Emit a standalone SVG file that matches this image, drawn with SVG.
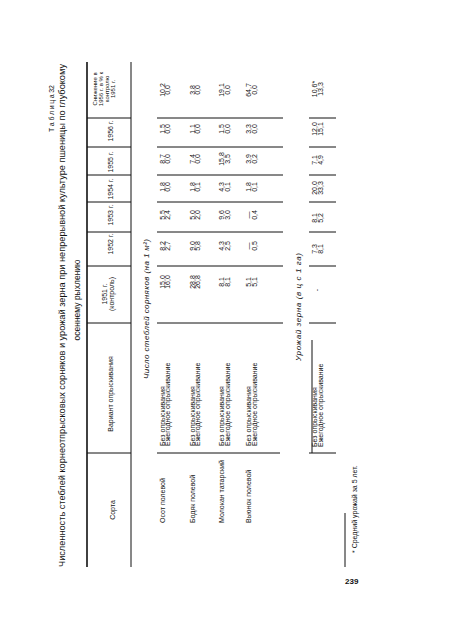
<svg xmlns="http://www.w3.org/2000/svg" width="450" height="634" viewBox="0 0 450 634">
<style>
.t{font-family:"Liberation Sans",Arial,sans-serif;font-size:7px;fill:#111}
.m{text-anchor:middle}
.s{font-size:6px}
.i{font-style:italic;font-size:8px}
.ti{font-size:8.5px}
.r{stroke:#111;stroke-width:1;fill:none}
.b{stroke:#111;stroke-width:1.6;fill:none}
</style>
<rect width="450" height="634" fill="#fff"/>
<g id="caption">
<text class="t" transform="translate(54 132) rotate(-90)" textLength="47">Т а б л и ц а 32</text>
<text class="t ti" transform="translate(65 567) rotate(-90)" textLength="503" lengthAdjust="spacingAndGlyphs">Численность стеблей корнеотпрысковых сорняков и урожай зерна при непрерывной культуре пшеницы по глубокому</text>
<text class="t ti m" transform="translate(80 300) rotate(-90)">осеннему рыхлению</text>
</g>
<g id="rules">
<line class="b" x1="87" y1="62" x2="87" y2="567"/>
<line class="r" x1="131" y1="62" x2="131" y2="567"/>
<path class="r" d="M87 118H131M87 147H131M87 175H131M87 202H131M87 232H131M87 266H131M87 323H131M87 453H131"/>
<path class="r" d="M157 118H283M157 147H283M157 175H283M157 202H283M157 232H283M157 266H283M157 323H283M157 453H280"/>
<path class="r" d="M309 118H336M309 147H336M309 175H336M309 202H336M309 232H336M309 266H336M309 323H336M309 453H336"/>
<line class="r" x1="312" y1="340" x2="312" y2="453"/>
<line class="r" x1="345" y1="513" x2="345" y2="567"/>
</g>
<g id="header">
<text class="t m" transform="translate(114.5 510) rotate(-90)">Сорта</text>
<text class="t m" transform="translate(112.5 394) rotate(-90)">Вариант опрыскивания</text>
<text class="t m" transform="translate(106.5 294) rotate(-90)">1951 г.</text>
<text class="t m" transform="translate(114 294) rotate(-90)">(контроль)</text>
<text class="t m" transform="translate(112.5 244) rotate(-90)">1952 г.</text>
<text class="t m" transform="translate(112.5 215) rotate(-90)">1953 г.</text>
<text class="t m" transform="translate(112.5 189) rotate(-90)">1954 г.</text>
<text class="t m" transform="translate(112.5 162) rotate(-90)">1955 г.</text>
<text class="t m" transform="translate(112.5 131) rotate(-90)">1956 г.</text>
<text class="t s m" transform="translate(97 89) rotate(-90)">Снижение в</text>
<text class="t s m" transform="translate(103 89) rotate(-90)">1956 г. в % к</text>
<text class="t s m" transform="translate(109 89) rotate(-90)">контролю</text>
<text class="t s m" transform="translate(115 89) rotate(-90)">1951 г.</text>
</g>
<g id="section1">
<text class="t i m" transform="translate(149 309) rotate(-90)" textLength="140">Число стеблей сорняков (на 1 м²)</text>
<text class="t" transform="translate(164.5 523) rotate(-90)">Осот полевой</text>
<text class="t" transform="translate(194.5 523) rotate(-90)">Бодяк полевой</text>
<text class="t" transform="translate(224 523) rotate(-90)">Молокан татарский</text>
<text class="t" transform="translate(250.5 523) rotate(-90)">Вьюнок полевой</text>
<text class="t" transform="translate(164.5 446) rotate(-90)">Без опрыскивания</text>
<text class="t" transform="translate(170 446) rotate(-90)">Ежегодное опрыскивание</text>
<text class="t" transform="translate(194.5 446) rotate(-90)">Без опрыскивания</text>
<text class="t" transform="translate(200 446) rotate(-90)">Ежегодное опрыскивание</text>
<text class="t" transform="translate(224 446) rotate(-90)">Без опрыскивания</text>
<text class="t" transform="translate(229.5 446) rotate(-90)">Ежегодное опрыскивание</text>
<text class="t" transform="translate(250.5 446) rotate(-90)">Без опрыскивания</text>
<text class="t" transform="translate(256.5 446) rotate(-90)">Ежегодное опрыскивание</text>
</g>
<g id="data1">
<text class="t m" transform="translate(164.5 282) rotate(-90)">15,0</text>
<text class="t m" transform="translate(170 282) rotate(-90)">16,0</text>
<text class="t m" transform="translate(164.5 246) rotate(-90)">8,2</text>
<text class="t m" transform="translate(170 246) rotate(-90)">2,7</text>
<text class="t m" transform="translate(164.5 215) rotate(-90)">5,5</text>
<text class="t m" transform="translate(170 215) rotate(-90)">2,4</text>
<text class="t m" transform="translate(164.5 187) rotate(-90)">1,8</text>
<text class="t m" transform="translate(170 187) rotate(-90)">0,0</text>
<text class="t m" transform="translate(164.5 159) rotate(-90)">8,7</text>
<text class="t m" transform="translate(170 159) rotate(-90)">0,0</text>
<text class="t m" transform="translate(164.5 129) rotate(-90)">1,5</text>
<text class="t m" transform="translate(170 129) rotate(-90)">0,0</text>
<text class="t m" transform="translate(164.5 90) rotate(-90)">10,2</text>
<text class="t m" transform="translate(170 90) rotate(-90)">0,0</text>

<text class="t m" transform="translate(194.5 282) rotate(-90)">28,8</text>
<text class="t m" transform="translate(200 282) rotate(-90)">26,8</text>
<text class="t m" transform="translate(194.5 246) rotate(-90)">9,0</text>
<text class="t m" transform="translate(200 246) rotate(-90)">5,8</text>
<text class="t m" transform="translate(194.5 215) rotate(-90)">5,0</text>
<text class="t m" transform="translate(200 215) rotate(-90)">2,0</text>
<text class="t m" transform="translate(194.5 187) rotate(-90)">1,8</text>
<text class="t m" transform="translate(200 187) rotate(-90)">0,1</text>
<text class="t m" transform="translate(194.5 159) rotate(-90)">7,4</text>
<text class="t m" transform="translate(200 159) rotate(-90)">0,0</text>
<text class="t m" transform="translate(194.5 129) rotate(-90)">1,1</text>
<text class="t m" transform="translate(200 129) rotate(-90)">0,0</text>
<text class="t m" transform="translate(194.5 90) rotate(-90)">3,8</text>
<text class="t m" transform="translate(200 90) rotate(-90)">0,0</text>

<text class="t m" transform="translate(224 282) rotate(-90)">8,1</text>
<text class="t m" transform="translate(229.5 282) rotate(-90)">8,1</text>
<text class="t m" transform="translate(224 246) rotate(-90)">4,3</text>
<text class="t m" transform="translate(229.5 246) rotate(-90)">2,5</text>
<text class="t m" transform="translate(224 215) rotate(-90)">9,6</text>
<text class="t m" transform="translate(229.5 215) rotate(-90)">3,0</text>
<text class="t m" transform="translate(224 187) rotate(-90)">4,3</text>
<text class="t m" transform="translate(229.5 187) rotate(-90)">0,1</text>
<text class="t m" transform="translate(224 159) rotate(-90)">15,8</text>
<text class="t m" transform="translate(229.5 159) rotate(-90)">3,5</text>
<text class="t m" transform="translate(224 129) rotate(-90)">1,5</text>
<text class="t m" transform="translate(229.5 129) rotate(-90)">0,0</text>
<text class="t m" transform="translate(224 90) rotate(-90)">19,1</text>
<text class="t m" transform="translate(229.5 90) rotate(-90)">0,0</text>

<text class="t m" transform="translate(250.5 282) rotate(-90)">5,1</text>
<text class="t m" transform="translate(256.5 282) rotate(-90)">5,1</text>
<text class="t m" transform="translate(250.5 246) rotate(-90)">—</text>
<text class="t m" transform="translate(256.5 246) rotate(-90)">0,5</text>
<text class="t m" transform="translate(250.5 215) rotate(-90)">—</text>
<text class="t m" transform="translate(256.5 215) rotate(-90)">0,4</text>
<text class="t m" transform="translate(250.5 187) rotate(-90)">1,8</text>
<text class="t m" transform="translate(256.5 187) rotate(-90)">0,1</text>
<text class="t m" transform="translate(250.5 159) rotate(-90)">3,9</text>
<text class="t m" transform="translate(256.5 159) rotate(-90)">0,2</text>
<text class="t m" transform="translate(250.5 129) rotate(-90)">3,3</text>
<text class="t m" transform="translate(256.5 129) rotate(-90)">0,0</text>
<text class="t m" transform="translate(250.5 90) rotate(-90)">64,7</text>
<text class="t m" transform="translate(256.5 90) rotate(-90)">0,0</text>
</g>
<g id="section2">
<text class="t i m" transform="translate(301 307) rotate(-90)" textLength="108">Урожай зерна (в ц с 1 га)</text>
<text class="t" transform="translate(316.5 447) rotate(-90)">Без опрыскивания</text>
<text class="t" transform="translate(322.5 447) rotate(-90)">Ежегодное опрыскивание</text>
<text class="t m" transform="translate(319 290) rotate(-90)">-</text>
<text class="t m" transform="translate(316.5 249) rotate(-90)">7,3</text>
<text class="t m" transform="translate(322.5 249) rotate(-90)">8,1</text>
<text class="t m" transform="translate(316.5 218) rotate(-90)">8,1</text>
<text class="t m" transform="translate(322.5 218) rotate(-90)">5,2</text>
<text class="t m" transform="translate(316.5 188) rotate(-90)">20,0</text>
<text class="t m" transform="translate(322.5 188) rotate(-90)">33,3</text>
<text class="t m" transform="translate(316.5 160) rotate(-90)">7,1</text>
<text class="t m" transform="translate(322.5 160) rotate(-90)">4,9</text>
<text class="t m" transform="translate(316.5 129) rotate(-90)">12,0</text>
<text class="t m" transform="translate(322.5 129) rotate(-90)">15,1</text>
<text class="t m" transform="translate(316.5 89) rotate(-90)">10,6*</text>
<text class="t m" transform="translate(322.5 89) rotate(-90)">13,3</text>
</g>
<g id="footnote">
<text class="t" transform="translate(357 553) rotate(-90)">* Средний урожай за 5 лет.</text>
<text class="t" x="345" y="584" style="font-size:8px;font-weight:bold">239</text>
</g>
</svg>
